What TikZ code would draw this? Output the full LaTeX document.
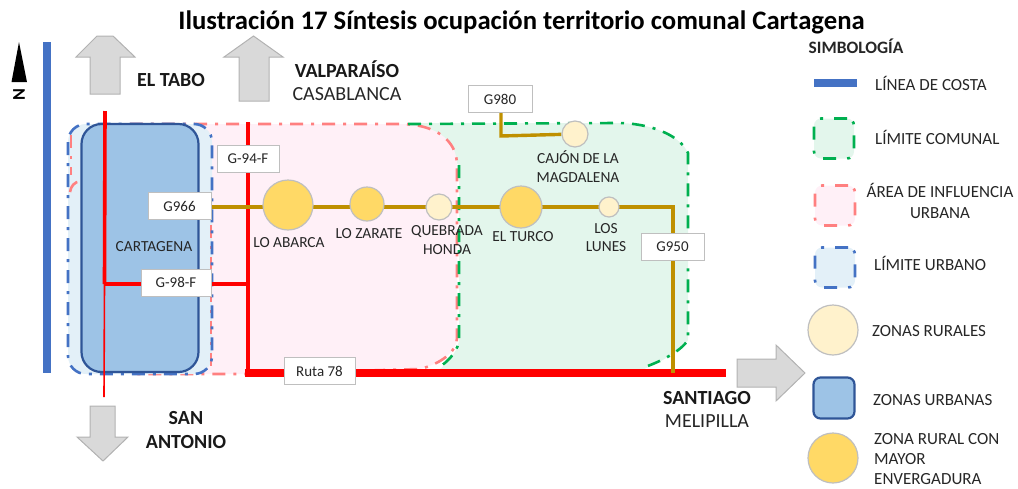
\documentclass[tikz,border=0pt]{standalone}
\usepackage{fontspec}
\setmainfont{Carlito}
\usepackage{tikz}
\usetikzlibrary{shapes, positioning}

\definecolor{costa}{HTML}{4472C4}
\definecolor{comunal}{HTML}{00B050}
\definecolor{comunalfondo}{HTML}{E3F6EC}
\definecolor{influencia}{HTML}{FF8080}
\definecolor{influenciafondo}{HTML}{FFF0F7}
\definecolor{urbanofondo}{HTML}{E3F0F8}
\definecolor{urbana}{HTML}{9DC3E6}
\definecolor{urbanaborde}{HTML}{2F5597}
\definecolor{rural}{HTML}{FFF2CC}
\definecolor{mayor}{HTML}{FFD966}
\definecolor{camino}{HTML}{BF9000}
\definecolor{flecha}{HTML}{D9D9D9}
\definecolor{texto}{HTML}{262626}

\pgfdeclarelayer{zonas}
\pgfdeclarelayer{rutas}
\pgfsetlayers{zonas,rutas,main}

\tikzset{
    etiqueta/.style={rectangle, draw=black!25, line width=1pt, fill=white, text=texto, inner sep=0pt, minimum height=27pt, font=\fontsize{15}{17}\selectfont},
    txt/.style={text=texto, align=center, inner sep=0pt, font=\fontsize{15.4}{18.5}\selectfont},
    ley/.style={text=texto, inner sep=0pt, align=left, anchor=west, font=\fontsize{17}{21}\selectfont},
    ciudad/.style={text=texto, align=center, inner sep=0pt, font=\fontsize{20}{24}\selectfont},
    negrita/.style={text=black!90, align=center, inner sep=0pt, font=\fontsize{20}{24}\selectfont\bfseries},
    chico/.style={circle, draw=black!25, line width=1.2pt, inner sep=0pt, fill=rural},
    grande/.style={circle, draw=black!25, line width=1.2pt, inner sep=0pt, fill=mayor},
    limite/.style={line width=2.6pt, dash pattern=on 13pt off 8pt on 3pt off 8pt},
    limiteley/.style={line width=2.6pt, dash pattern=on 13pt off 11pt on 3pt off 11pt, rounded corners=7pt},
    roja/.style={draw=red, line width=3.6pt},
    cafe/.style={draw=camino, line width=3.4pt},
    flechagris/.style={draw=black!30, line width=1pt, fill=flecha},
}

\begin{document}
\begin{tikzpicture}[x=1pt, y=-1pt]
    \useasboundingbox (0,0) rectangle (1018,488);

    \node[inner sep=0pt, font=\fontsize{26.7}{30}\selectfont\bfseries] (titulo) at (521.5,22) {Ilustración 17 Síntesis ocupación territorio comunal Cartagena};

    % norte y costa
    \fill[black] (19,42) -- (27,82) -- (11.5,82) -- cycle;
    \node[rotate=90, inner sep=0pt, font=\fontsize{18}{20}\selectfont\bfseries] (norte) at (19,95) {N};
    \fill[costa] (43,42) rectangle (51,373);

    % flechas
    \draw[flechagris] (90,94) -- (90,57) -- (76,57) -- (97,36) -- (113,36) -- (135,57) -- (120,57) -- (120,94) -- cycle;
    \draw[flechagris] (239,101) -- (239,57) -- (224,57) -- (253.5,36) -- (283,57) -- (269,57) -- (269,101) -- cycle;
    \draw[flechagris] (90,406) -- (115,406) -- (115,437) -- (128,437) -- (103,461) -- (77,437) -- (90,437) -- cycle;
    \draw[flechagris] (737,359) -- (776,359) -- (776,345) -- (805,373) -- (776,401) -- (776,387) -- (737,387) -- cycle;

    \node[negrita] (tabo) at (171,80) {EL TABO};
    \node[negrita] (valpo) at (347,69) {VALPARAÍSO};
    \node[ciudad] (casablanca) [below=10pt of valpo] {CASABLANCA};
    \node[negrita] (sanantonio) at (186,430) {SAN\\ANTONIO};
    \node[negrita] (santiago) at (707,398) {SANTIAGO};
    \node[ciudad] (melipilla) [below=10pt of santiago] {MELIPILLA};

    % zonas
    \begin{pgfonlayer}{zonas}
        \path[fill=comunalfondo] (408,123) -- (617,123) .. controls (650,123) and (680,135) .. (688,153) -- (688,340) .. controls (680,352) and (660,362) .. (642,370) -- (437,372) .. controls (450,360) and (459,350) .. (459,338) -- (459,165) -- cycle;
        \path[fill=influenciafondo, draw=influencia, limite] (130,124) -- (400,124) .. controls (435,124) and (457,140) .. (457,165) -- (457,338) .. controls (457,352) and (440,364) .. (420,369) -- (245,374) -- (130,374) -- cycle;
        \draw[comunal, limite] (408,124) -- (617,123) .. controls (650,123) and (680,135) .. (688,153) -- (688,340) .. controls (680,352) and (660,362) .. (642,368);
        \draw[comunal, limite] (459,165) -- (459,338) .. controls (459,350) and (450,360) .. (437,369);
        \draw[fill=urbanofondo, draw=none, rounded corners=18pt] (68,124) rectangle (212,374);
        \draw[influencia, limite] (70,192) .. controls (71,186) and (74,182) .. (81,181);
        \draw[influencia, limite] (71,135) -- (71,175);
        \draw[influencia, limite] (211,225) -- (211,366);
        \draw[costa, limite, rounded corners=18pt] (68,124) rectangle (212,374);
        \node[rectangle, rounded corners=20pt, draw=urbanaborde, line width=2.2pt, fill=urbana, minimum width=117pt, minimum height=248pt] (cartagena) at (140,248) {};
    \end{pgfonlayer}
    \node[txt] (cartagenatxt) at (154,247) {CARTAGENA};

    % localidades
    \node[grande, minimum size=50pt] (abarca) at (288,205) {};
    \node[grande, minimum size=34pt] (zarate) at (367,204) {};
    \node[chico, minimum size=26pt] (quebrada) at (439,207) {};
    \node[grande, minimum size=42pt] (turco) at (521,207) {};
    \node[chico, minimum size=20pt] (lunes) at (609,207) {};
    \node[chico, minimum size=26pt] (cajon) at (575,134) {};

    \node[txt] (abarcatxt) at (289,243) {LO ABARCA};
    \node[txt] (zaratetxt) at (369,234) {LO ZARATE};
    \node[txt] (quebradatxt) at (447,240) {QUEBRADA\\HONDA};
    \node[txt] (turcotxt) at (523,237) {EL TURCO};
    \node[txt] (lunestxt) at (606,237.5) {LOS\\LUNES};
    \node[txt] (cajontxt) at (578,166.5) {CAJÓN DE LA\\MAGDALENA};

    % etiquetas de rutas
    \node[etiqueta, minimum width=63pt] (g966) at (179.5,206) {G966};
    \node[etiqueta, minimum width=62pt] (g94) at (248,158.5) {G-94-F};
    \node[etiqueta, minimum width=70pt] (g98) at (176,282.5) {G-98-F};
    \node[etiqueta, minimum width=71pt] (ruta78) at (319.5,371) {Ruta 78};
    \node[etiqueta, minimum width=64pt] (g980) at (500,99) {G980};
    \node[etiqueta, minimum width=63pt] (g950) at (672.5,246.5) {G950};

    \coordinate (tabonorte) at (105,111);
    \coordinate (tabocruce) at (104.5,284);
    \coordinate (tabosur) at (104,397);
    \coordinate (valponorte) at (248,122);
    \coordinate (valpocruce) at (248,284);
    \coordinate (valposur) at (245,373);
    \coordinate (santiagofin) at (726,373);
    \coordinate (esquina) at (673,205);
    \coordinate (cruce) at (673,373);
    \coordinate (g980codo) at (501,136);

    % rutas
    \begin{pgfonlayer}{rutas}
        \draw[roja] (tabonorte) -- (tabocruce);
        \draw[draw=red, line width=1.6pt] (tabocruce) -- (tabosur);
        \draw[roja, line width=4.4pt] (valponorte) -- (valpocruce) -- (valposur -| valpocruce);
        \draw[roja] (tabocruce) -- (valpocruce);
        \draw[roja, line width=8pt] (valposur) -- (santiagofin);
        \draw[cafe] (g966.east |- quebrada) -- (esquina |- quebrada) -- (esquina) -- (cruce);
        \draw[cafe] (g980.south -| g980codo) -- (g980codo) -- (cajon);
    \end{pgfonlayer}

    % simbologia
    \node[inner sep=0pt, text=black!85, font=\fontsize{17.4}{20}\selectfont\bfseries] (simbologia) at (856,46) {SIMBOLOGÍA};

    \fill[costa] (814,79) rectangle (857,87);
    \node[ley] (leycosta) at (875,83) {LÍNEA DE COSTA};

    \node[rectangle, fill=comunalfondo, draw=comunal, limiteley, minimum size=40pt] (cuadcomunal) at (834,138.5) {};
    \node[ley] (leycomunal) at (875,137) {LÍMITE COMUNAL};

    \node[rectangle, fill=influenciafondo, draw=influencia, limiteley, minimum size=40pt] (cuadinfluencia) at (835,205.5) {};
    \node[ley, anchor=center, align=center] (leyinfluencia) at (940,200.5) {ÁREA DE INFLUENCIA\\URBANA};

    \node[rectangle, fill=urbanofondo, draw=costa, limiteley, minimum size=40pt] (cuadurbano) at (835,267.5) {};
    \node[ley] (leyurbano) at (874,263) {LÍMITE URBANO};

    \node[chico, minimum size=50pt] (cirrural) at (833,330) {};
    \node[ley] (leyrural) at (872,331) {ZONAS RURALES};

    \node[rectangle, rounded corners=7pt, draw=urbanaborde, line width=2.2pt, fill=urbana, minimum size=41pt] (cuadurbana) at (834,398) {};
    \node[ley] (leyurbana) at (873,400) {ZONAS URBANAS};

    \node[grande, minimum size=50pt] (cirmayor) at (833,458) {};
    \node[ley, font=\fontsize{17}{20}\selectfont] (leymayor) at (874,459) {ZONA RURAL CON\\MAYOR\\ENVERGADURA};
\end{tikzpicture}
\end{document}
